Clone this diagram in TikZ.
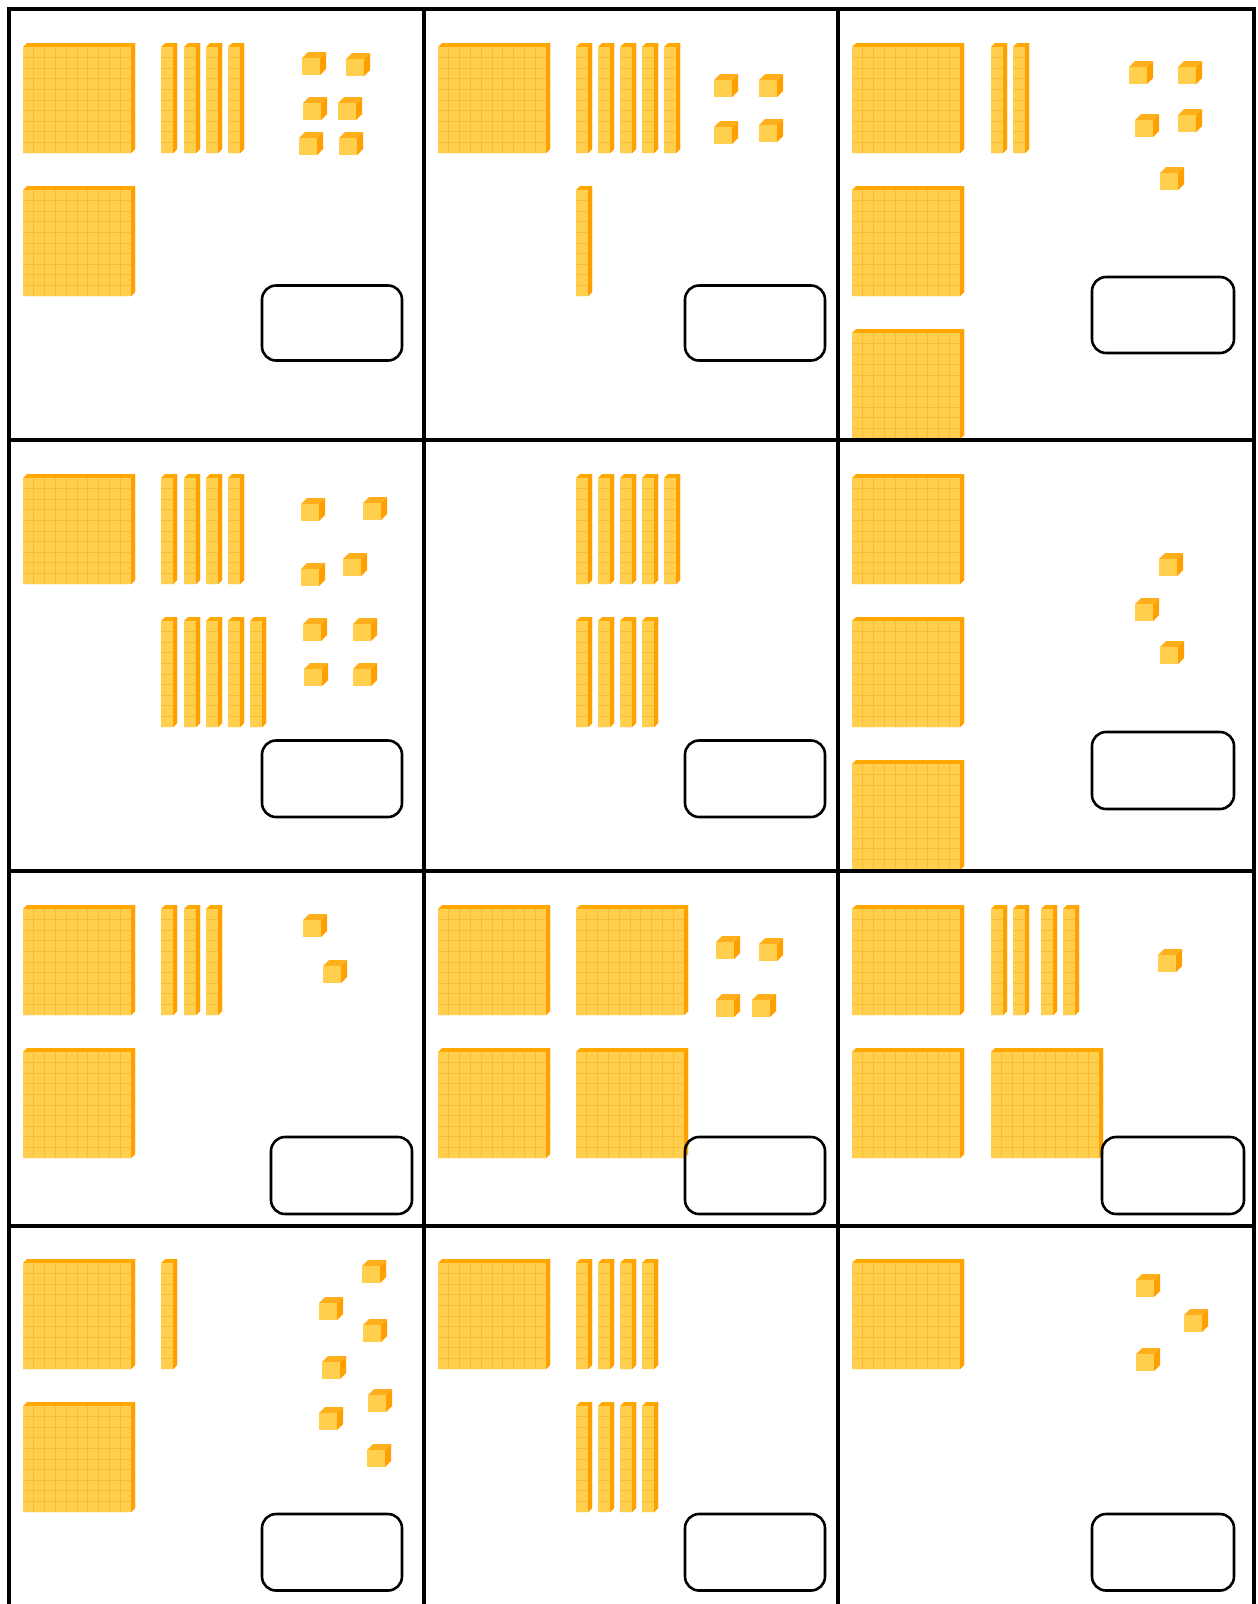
\documentclass[tikz,border=0pt]{standalone}
\definecolor{faceC}{HTML}{FFCF4D}
\definecolor{gridC}{HTML}{F9BC36}
\definecolor{edgeC}{HTML}{FFA800}
\definecolor{sideC}{HTML}{FFA000}
\definecolor{topC}{HTML}{FFAE1C}
\begin{document}
\begin{tikzpicture}[x=1pt,y=-1pt,
  frameline/.style={line width=4pt,black},
  answerbox/.style={draw=black,line width=2.6pt,rounded corners=14pt},
  hundredflat/.pic={
    % silhouette in edge colour, front face on top, 10x10 grid
    \fill[edgeC] (0,4) -- (4,0) -- (112,0) -- (112,106) -- (108,110) -- (0,110) -- cycle;
    \fill[sideC] (108,4) -- (112,0) -- (112,106) -- (108,110) -- cycle;
    \fill[faceC] (0,4) rectangle (108,110);
    \foreach \i in {1,...,9} {
      \draw[gridC,line width=0.9pt] ({\i*10.8},4) -- ({\i*10.8},110);
      \draw[gridC,line width=0.9pt] (0,{4+\i*10.6}) -- (108,{4+\i*10.6});
    }
  },
  tenrod/.pic={
    \fill[edgeC] (0,4) -- (4,0) -- (16,0) -- (16,106) -- (12,110) -- (0,110) -- cycle;
    \fill[sideC] (12,4) -- (16,0) -- (16,106) -- (12,110) -- cycle;
    \fill[faceC] (0,4) rectangle (12,110);
    \foreach \i in {1,...,9}
      \draw[gridC,line width=0.9pt] (0,{4+\i*10.6}) -- (12,{4+\i*10.6});
  },
  unitcube/.pic={
    \fill[topC] (0,6) -- (6,0) -- (24,0) -- (18,6) -- cycle;
    \fill[sideC] (18,6) -- (24,0) -- (24,17) -- (18,23) -- cycle;
    \fill[faceC] (0,6) rectangle (18,23);
  }
]
\useasboundingbox (0,0) rectangle (1258,1604);
\fill[white] (0,0) rectangle (1258,1604);

% ---------- panel 1 ----------
\pic at (23,43) {hundredflat};
\pic at (23,186) {hundredflat};
\foreach \x in {161,184,206,228} \pic at (\x,43) {tenrod};
\foreach \x/\y in {302/52,346/53,303/97,338/97,299/132,339/132} \pic at (\x,\y) {unitcube};
\draw[answerbox] (262,285.5) rectangle (402,360.5);

% ---------- panel 2 ----------
\pic at (438,43) {hundredflat};
\foreach \x in {576,598,620,642,664} \pic at (\x,43) {tenrod};
\pic at (576,186) {tenrod};
\foreach \x/\y in {714/74,759/74,714/121,759/119} \pic at (\x,\y) {unitcube};
\draw[answerbox] (685,285.5) rectangle (825,360.5);

% ---------- panel 3 ----------
\foreach \y in {43,186,329} \pic at (852,\y) {hundredflat};
\foreach \x in {991,1013} \pic at (\x,43) {tenrod};
\foreach \x/\y in {1129/61,1178/61,1135/114,1178/109,1160/167} \pic at (\x,\y) {unitcube};
\draw[answerbox] (1092,277) rectangle (1234,353);

% ---------- panel 4 ----------
\pic at (23,474) {hundredflat};
\foreach \x in {161,184,206,228} \pic at (\x,474) {tenrod};
\foreach \x in {161,184,206,228,250} \pic at (\x,617) {tenrod};
\foreach \x/\y in {301/498,363/497,301/563,343/553,303/618,353/618,304/663,353/663} \pic at (\x,\y) {unitcube};
\draw[answerbox] (262,740.5) rectangle (402,817);

% ---------- panel 5 ----------
\foreach \x in {576,598,620,642,664} \pic at (\x,474) {tenrod};
\foreach \x in {576,598,620,642} \pic at (\x,617) {tenrod};
\draw[answerbox] (685,740.5) rectangle (825,817);

% ---------- panel 6 ----------
\foreach \y in {474,617,760} \pic at (852,\y) {hundredflat};
\foreach \x/\y in {1159/553,1135/598,1160/641} \pic at (\x,\y) {unitcube};
\draw[answerbox] (1092,732) rectangle (1234,809);

% ---------- panel 7 ----------
\pic at (23,905) {hundredflat};
\pic at (23,1048) {hundredflat};
\foreach \x in {161,184,206} \pic at (\x,905) {tenrod};
\foreach \x/\y in {303/914,323/960} \pic at (\x,\y) {unitcube};
\draw[answerbox] (271,1137) rectangle (412,1214);

% ---------- panel 8 ----------
\foreach \x/\y in {438/905,576/905,438/1048,576/1048} \pic at (\x,\y) {hundredflat};
\foreach \x/\y in {716/936,759/938,716/994,752/994} \pic at (\x,\y) {unitcube};
\draw[answerbox] (685,1137) rectangle (825,1214);

% ---------- panel 9 ----------
\foreach \x/\y in {852/905,852/1048,991/1048} \pic at (\x,\y) {hundredflat};
\foreach \x in {991,1013,1041,1063} \pic at (\x,905) {tenrod};
\pic at (1158,949) {unitcube};
\draw[answerbox] (1102,1137) rectangle (1244,1214);

% ---------- panel 10 ----------
\pic at (23,1259) {hundredflat};
\pic at (23,1402) {hundredflat};
\pic at (161,1259) {tenrod};
\foreach \x/\y in {362/1260,319/1297,363/1319,322/1356,368/1389,319/1407,367/1444} \pic at (\x,\y) {unitcube};
\draw[answerbox] (262,1514) rectangle (402,1590.5);

% ---------- panel 11 ----------
\pic at (438,1259) {hundredflat};
\foreach \x in {576,598,620,642} {
  \pic at (\x,1259) {tenrod};
  \pic at (\x,1402) {tenrod};
}
\draw[answerbox] (685,1514) rectangle (825,1590.5);

% ---------- panel 12 ----------
\pic at (852,1259) {hundredflat};
\foreach \x/\y in {1136/1274,1184/1309,1136/1348} \pic at (\x,\y) {unitcube};
\draw[answerbox] (1092,1514) rectangle (1234,1590.5);

% ---------- grid of panels ----------
\foreach \x in {9,424,838,1254} \draw[frameline] (\x,7) -- (\x,1604);
\foreach \y in {9,439.5,871,1225.5} \draw[frameline] (7,\y) -- (1256,\y);
\end{tikzpicture}
\end{document}
